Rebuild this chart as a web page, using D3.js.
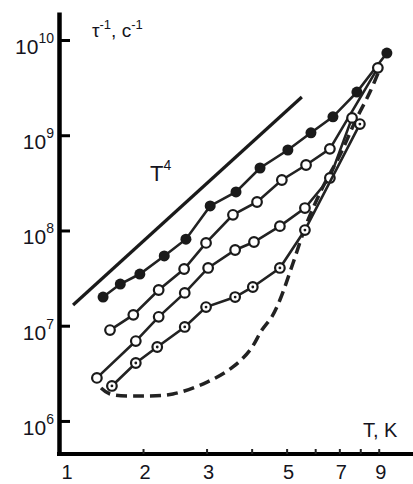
<!DOCTYPE html>
<html>
<head>
<meta charset="utf-8">
<script src="https://cdn.jsdelivr.net/npm/d3@7"></script>
<style>
  body { margin: 0; background: #fff; }
  text { font-family: "Liberation Sans", Arial, sans-serif; fill: #141420; }
</style>
</head>
<body>
<svg id="chart"></svg>
<script>
// temperatures (K) and relaxation rates (1/s)
var filledT    = [1.55, 1.73, 1.96, 2.29, 2.63, 3.07, 3.62, 4.22, 5.04, 5.84, 6.72, 7.83, 9.48];
var filledRate = [2.0e7, 2.74e7, 3.49e7, 5.4e7, 8.1e7, 1.81e8, 2.54e8, 4.53e8, 7.0e8, 1.06e9, 1.56e9, 2.84e9, 7.3e9];

var openT    = [1.62, 1.88, 2.21, 2.60, 2.99, 3.55, 4.14, 4.85, 5.66, 6.59, 8.95];
var openRate = [9.0e6, 1.3e7, 2.37e7, 3.94e7, 7.4e7, 1.46e8, 1.99e8, 3.39e8, 4.87e8, 7.2e8, 5.1e9];

var midT    = [1.49, 1.91, 2.21, 2.61, 3.03, 3.60, 4.06, 4.79, 5.62, 6.59, 7.59];
var midRate = [2.83e6, 6.9e6, 1.24e7, 2.21e7, 4.04e7, 6.24e7, 7.57e7, 1.11e8, 1.72e8, 3.56e8, 1.52e9];

var dotT    = [1.64, 1.91, 2.19, 2.61, 2.99, 3.60, 4.03, 4.79, 5.62, 7.98];
var dotRate = [2.33e6, 4.06e6, 5.98e6, 9.7e6, 1.57e7, 2.0e7, 2.55e7, 4.04e7, 1.01e8, 1.31e9];

var dashT    = [1.53, 1.62, 1.96, 2.42, 3.01, 3.55, 3.96, 4.27, 4.55, 4.79, 5.21, 5.69, 6.30, 7.03, 7.73, 8.51, 9.13];
var dashRate = [2.22e6, 1.92e6, 1.83e6, 1.92e6, 2.56e6, 3.69e6, 5.56e6, 9.0e6, 1.24e7, 1.86e7, 4.56e7, 1.2e8, 2.86e8, 6.2e8, 1.38e9, 2.84e9, 5.33e9];

// T^4 guide line
var t4T    = [1.28, 5.51];
var t4Rate = [1.65e7, 2.52e9];

var decades = [1e6, 1e7, 1e8, 1e9, 1e10];
var decadeExp = ["6", "7", "8", "9", "10"];
var xTicks = [2, 3, 4, 5, 6, 7, 8, 9];
var xLabels = [2, 3, 5, 7, 9];

var width = 413, height = 484;
var svg = d3.select("#chart").attr("width", width).attr("height", height);

var x = d3.scaleLog().domain([1.17, 11.2]).range([59, 413]);
var y = d3.scaleLog().domain([Math.pow(10, 5.653), Math.pow(10, 10.294)]).range([454, 12]);

//Axes
var yAxis = svg.append("g")
    .attr("transform", "translate(" + x.range()[0] + ",0)")
    .call(d3.axisLeft(y).tickValues(decades).tickSize(-11).tickSizeOuter(0).tickFormat(""));
yAxis.select(".domain").attr("stroke", "#000").attr("stroke-width", 4.5);
yAxis.selectAll(".tick line").attr("stroke", "#000").attr("stroke-width", 3);

var xAxis = svg.append("g")
    .attr("transform", "translate(0," + y.range()[0] + ")")
    .call(d3.axisBottom(x).tickValues(xTicks).tickSize(-5).tickSizeOuter(0).tickFormat(""));
xAxis.select(".domain").attr("stroke", "#000").attr("stroke-width", 4)
    .attr("d", "M" + (x.range()[0] - 2) + ",0H" + x.range()[1]);
xAxis.selectAll(".tick line").attr("stroke", "#222").attr("stroke-width", 2);

//Tick labels
decades.forEach(function (d, i) {
    var t = svg.append("text")
        .attr("x", 54)
        .attr("y", y(d) + 14)
        .attr("text-anchor", "end")
        .style("font-size", "21px");
    t.append("tspan").text("10");
    t.append("tspan").attr("dy", -11).style("font-size", "14px").text(decadeExp[i]);
});

svg.selectAll("text.xlab")
    .data(xLabels)
    .enter().append("text")
    .attr("class", "xlab")
    .attr("x", function (d) { return x(d) + 2; })
    .attr("y", 479)
    .attr("text-anchor", "middle")
    .style("font-size", "20px")
    .text(function (d) { return d; });
svg.append("text")
    .attr("x", x.range()[0] + 8)
    .attr("y", 479)
    .attr("text-anchor", "middle")
    .style("font-size", "20px")
    .text("1");

//Axis titles
var yt = svg.append("text").attr("x", 92).attr("y", 37).style("font-size", "19px");
yt.append("tspan").text("τ");
yt.append("tspan").attr("dy", -8).style("font-size", "13px").text("-1");
yt.append("tspan").attr("dy", 8).text(", c");
yt.append("tspan").attr("dy", -8).style("font-size", "13px").text("-1");

svg.append("text").attr("x", 363).attr("y", 437).style("font-size", "20px").text("T, K");

var t4 = svg.append("text").attr("x", 150).attr("y", 181).style("font-size", "22px");
t4.append("tspan").text("T");
t4.append("tspan").attr("dy", -11).style("font-size", "14px").text("4");

//Lines
function pairs(ts, rs) {
    return ts.map(function (t, i) { return [t, rs[i]]; });
}
var line = d3.line()
    .x(function (d) { return x(d[0]); })
    .y(function (d) { return y(d[1]); });
var smooth = d3.line()
    .x(function (d) { return x(d[0]); })
    .y(function (d) { return y(d[1]); })
    .curve(d3.curveCatmullRom);

svg.append("path")
    .attr("d", smooth(pairs(dashT, dashRate)))
    .attr("fill", "none").attr("stroke", "#222")
    .attr("stroke-width", 3.5).attr("stroke-dasharray", "11,6");

svg.append("path")
    .attr("d", line(pairs(t4T, t4Rate)))
    .attr("fill", "none").attr("stroke", "#1a1a1a").attr("stroke-width", 3.2);

var series = [
    { t: filledT, r: filledRate, kind: "filled" },
    { t: openT, r: openRate, kind: "open" },
    { t: midT, r: midRate, kind: "open" },
    { t: dotT, r: dotRate, kind: "dot" }
];

series.forEach(function (s) {
    var pts = pairs(s.t, s.r);
    svg.append("path")
        .attr("d", line(pts))
        .attr("fill", "none").attr("stroke", "#222").attr("stroke-width", 2.6);
    var g = svg.append("g");
    g.selectAll("circle")
        .data(pts)
        .enter().append("circle")
        .attr("cx", function (d) { return x(d[0]); })
        .attr("cy", function (d) { return y(d[1]); })
        .attr("r", s.kind === "filled" ? 5.5 : 4.8)
        .attr("fill", s.kind === "filled" ? "#1a1a1a" : "#fff")
        .attr("stroke", "#1a1a1a")
        .attr("stroke-width", s.kind === "filled" ? 0 : 2.2);
    if (s.kind === "dot") {
        g.selectAll("circle.c")
            .data(pts)
            .enter().append("circle")
            .attr("class", "c")
            .attr("cx", function (d) { return x(d[0]); })
            .attr("cy", function (d) { return y(d[1]); })
            .attr("r", 1.4)
            .attr("fill", "#1a1a1a");
    }
});
</script>
</body>
</html>
